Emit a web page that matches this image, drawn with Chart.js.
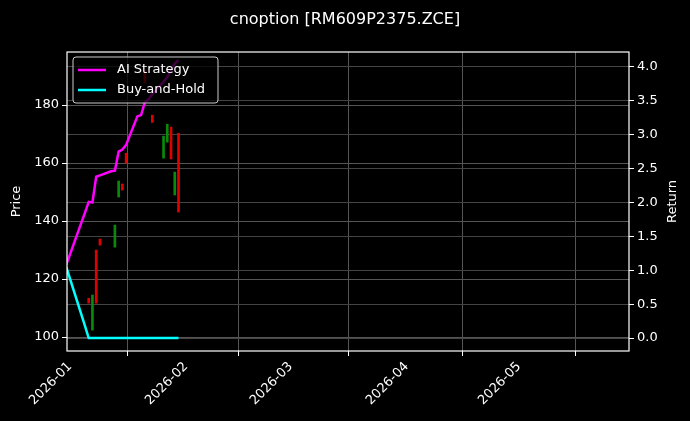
<!DOCTYPE html>
<html><head><meta charset="utf-8">
<script src="https://cdn.jsdelivr.net/npm/chart.js@4"></script>
<style>html,body{margin:0;background:#000}#w{width:690px;height:421px}</style>
</head><body><div id="w"><canvas id="c"></canvas></div>
<script>
const candleDates=['2026-01-06','2026-01-07','2026-01-08','2026-01-09','2026-01-13','2026-01-14','2026-01-15','2026-01-16','2026-01-21','2026-01-23','2026-01-26','2026-01-27','2026-01-28','2026-01-29','2026-01-30'];
const candleLow=[111.7,102.4,111.7,131.7,131.0,148.3,150.7,160.0,187.6,174.0,161.7,167.2,161.4,149.0,143.1];
const candleHigh=[113.4,114.5,130.0,133.8,138.6,153.8,152.8,163.4,192.0,176.5,169.3,173.4,172.4,156.9,170.3];
const candleUp=[false,true,false,false,true,true,false,false,false,false,true,true,false,true,false];
const lineDates=['2025-12-31','2026-01-05','2026-01-06','2026-01-07','2026-01-08','2026-01-09','2026-01-12','2026-01-13','2026-01-14','2026-01-15','2026-01-16','2026-01-19','2026-01-20','2026-01-21','2026-01-22','2026-01-23','2026-01-26','2026-01-27','2026-01-28','2026-01-29','2026-01-30'];
const aiReturn=[1.08,1.85,2.01,2.0,2.38,2.40,2.46,2.47,2.75,2.78,2.85,3.27,3.29,3.48,3.52,3.60,3.78,3.85,3.95,4.05,4.10];
const bhReturn=[1.05,0.18,0.0,0.0,0.0,0.0,0.0,0.0,0.0,0.0,0.0,0.0,0.0,0.0,0.0,0.0,0.0,0.0,0.0,0.0,0.0];
const monthTicks=['2026-01-01','2026-02-01','2026-03-01','2026-04-01','2026-05-01'];
const t=s=>Date.parse(s+'T00:00:00Z');
const DAY=86400000;
const F='DejaVu Sans';
Chart.defaults.font.family=F;Chart.defaults.color='#fff';
const overlay={id:'ov',afterDraw(ch){const c=ch.ctx,a=ch.chartArea;c.save();
c.fillStyle='#fff';c.textAlign='center';c.textBaseline='middle';
c.font='16px '+F;c.fillText('cnoption [RM609P2375.ZCE]',345,20);
c.font='13px '+F;
c.save();c.translate(17,(a.top+a.bottom)/2);c.rotate(-Math.PI/2);c.fillText('Price',0,0);c.restore();
c.save();c.translate(673,(a.top+a.bottom)/2);c.rotate(-Math.PI/2);c.fillText('Return',0,0);c.restore();
c.strokeStyle='#fff';c.lineWidth=1.2;c.strokeRect(a.left,a.top,a.right-a.left,a.bottom-a.top);
const x0=a.left+6,y0=a.top+5,w=145,h=46;
c.fillStyle='rgba(0,0,0,0.75)';c.strokeStyle='#ccc';c.lineWidth=1;
c.beginPath();c.roundRect(x0,y0,w,h,3);c.fill();c.stroke();
const items=[['AI Strategy','#ff00ff'],['Buy-and-Hold','#00ffff']];
items.forEach((it,i)=>{const yy=y0+13+i*20;c.strokeStyle=it[1];c.lineWidth=2.5;c.beginPath();c.moveTo(x0+5,yy);c.lineTo(x0+33,yy);c.stroke();
c.fillStyle='#fff';c.textAlign='left';c.font='13px '+F;c.fillText(it[0],x0+44,yy);});
c.restore();}};
new Chart(document.getElementById('c'),{
data:{datasets:[
{type:'bar',data:candleDates.map((d,i)=>({x:t(d),y:[candleLow[i],candleHigh[i]]})),backgroundColor:candleUp.map(u=>u?'#0a8a0a':'#e00000'),barThickness:2,yAxisID:'y',order:3},
{type:'line',data:lineDates.map((d,i)=>({x:t(d),y:aiReturn[i]})),borderColor:'#ff00ff',borderWidth:2.5,pointRadius:0,yAxisID:'y1',order:1},
{type:'line',data:lineDates.map((d,i)=>({x:t(d),y:bhReturn[i]})),borderColor:'#00ffff',borderWidth:2.5,pointRadius:0,yAxisID:'y1',order:2}
]},
options:{responsive:true,maintainAspectRatio:false,animation:false,
layout:{padding:{top:52,left:0,right:0,bottom:0}},
plugins:{legend:{display:false},tooltip:{enabled:false}},
scales:{
x:{type:'linear',min:t('2025-12-31')+0.2*DAY,max:t('2026-05-30')+0.4*DAY,offset:false,
afterBuildTicks:s=>{s.ticks=monthTicks.map(m=>({value:t(m)}));},
afterFit:s=>{s.height=70;},
ticks:{minRotation:45,maxRotation:45,font:{size:13},color:'#fff',callback:v=>new Date(v).toISOString().slice(0,7)},
grid:{color:'#555',borderDash:[3,3],tickColor:'#fff',tickLength:5,drawOnChartArea:true},border:{display:false}},
y:{position:'left',min:95.2,max:198.3,afterBuildTicks:s=>{s.ticks=[100,120,140,160,180].map(v=>({value:v}));},
afterFit:s=>{s.width=67;},
ticks:{font:{size:13},color:'#fff'},grid:{color:'#555',borderDash:[3,3],tickColor:'#fff',tickLength:5},border:{display:false}},
y1:{position:'right',min:-0.19,max:4.22,afterBuildTicks:s=>{s.ticks=[0,0.5,1,1.5,2,2.5,3,3.5,4].map(v=>({value:v}));},
afterFit:s=>{s.width=61;},
ticks:{font:{size:13},color:'#fff',callback:v=>v.toFixed(1)},grid:{color:'#444',borderDash:[1,3],tickColor:'#fff',tickLength:5},border:{display:false}}
}},
plugins:[overlay]});
</script></body></html>
